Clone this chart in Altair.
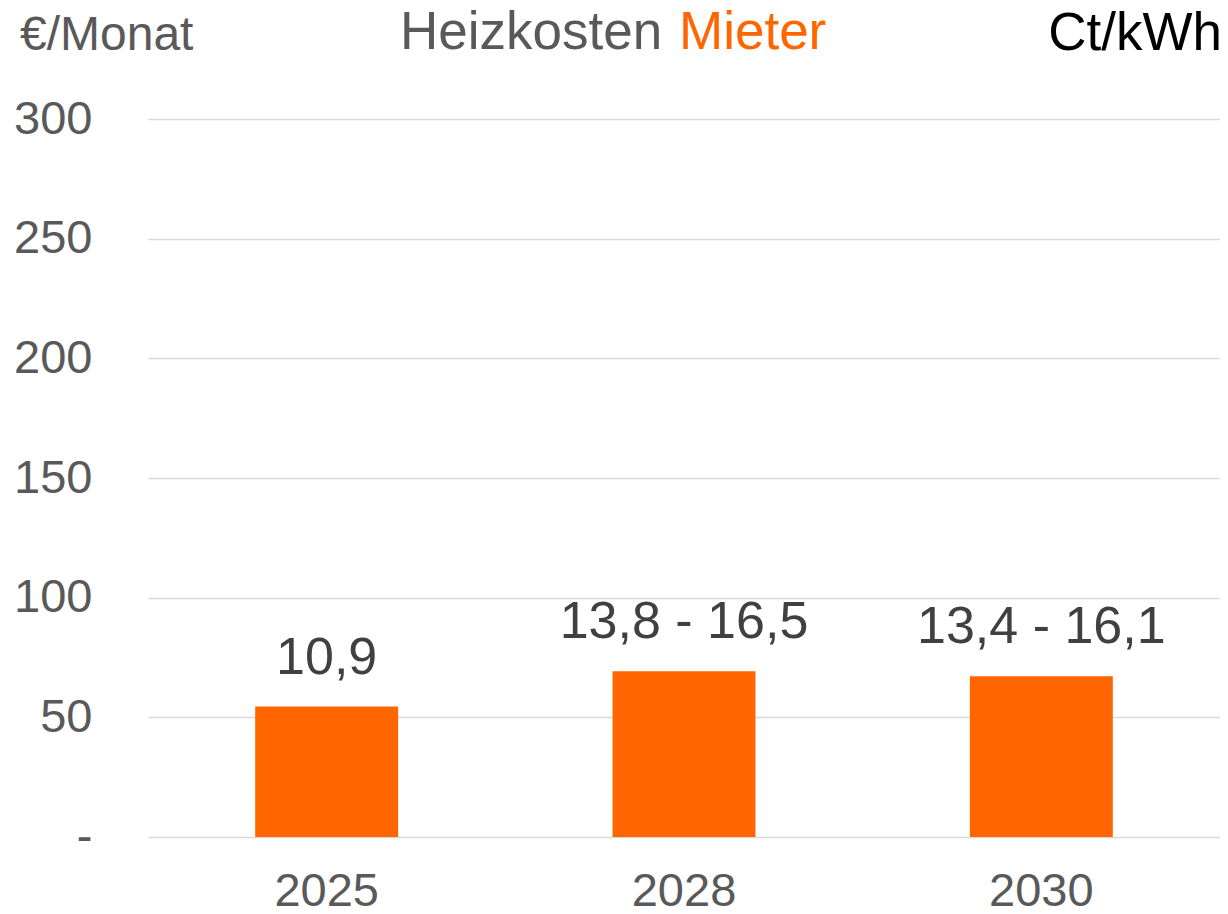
import altair as alt
import pandas as pd

years = ["2025", "2028", "2030"]
heights = [54.5, 69.3, 67.2]
labels = ["10,9", "13,8 - 16,5", "13,4 - 16,1"]

df = pd.DataFrame({"year": years, "value": heights, "label": labels})

FONT = "Liberation Sans"
ORANGE = "#ff6600"
GRAY = "#595959"

base = alt.Chart(df)

bars = base.mark_bar(color=ORANGE).encode(
    x=alt.X("year:N", sort=years,
            scale=alt.Scale(paddingInner=0.6, paddingOuter=0.3),
            axis=alt.Axis(title=None, labelAngle=0, domain=False, ticks=False, tickSize=0,
                          labelPadding=31, labelFontSize=47, labelColor=GRAY,
                          labelFont=FONT, grid=False)),
    y=alt.Y("value:Q", scale=alt.Scale(domain=[0, 300], nice=False),
            axis=alt.Axis(title=None, values=[0, 50, 100, 150, 200, 250, 300],
                          labelExpr="datum.value == 0 ? '-' : datum.label",
                          domain=False, ticks=False, tickSize=0, labelPadding=56,
                          labelFontSize=47, labelColor=GRAY, labelFont=FONT,
                          gridColor="#d9d9d9", gridWidth=1.5)),
)

text = base.mark_text(fontSize=52, color="#404040", font=FONT, baseline="alphabetic", dy=-33).encode(
    x=alt.X("year:N", sort=years),
    y="value:Q",
    text="label:N",
)

one = alt.Chart(pd.DataFrame({"a": [1]}))
t1 = one.mark_text(text="€/Monat", fontSize=48, color=GRAY, font=FONT, align="left", baseline="alphabetic").encode(
    x=alt.value(-128), y=alt.value(-69))
t2 = one.mark_text(text="Heizkosten", fontSize=53, color=GRAY, font=FONT, align="left", baseline="alphabetic").encode(
    x=alt.value(252), y=alt.value(-70))
t3 = one.mark_text(text="Mieter", fontSize=53, color=ORANGE, font=FONT, align="left", baseline="alphabetic").encode(
    x=alt.value(531), y=alt.value(-70))
t4 = one.mark_text(text="Ct/kWh", fontSize=53, color="black", font=FONT, align="right", baseline="alphabetic").encode(
    x=alt.value(1074), y=alt.value(-69))

chart = alt.layer(bars, text, t1, t2, t3, t4).properties(
    width=1072, height=718,
    background="white",
    autosize=alt.AutoSizeParams(type="none"),
    padding={"left": 140, "top": 111, "right": 0, "bottom": 77},
).configure_view(strokeWidth=0, stroke=None)

chart.save("out.html", embed_options={"renderer": "svg", "actions": False})
